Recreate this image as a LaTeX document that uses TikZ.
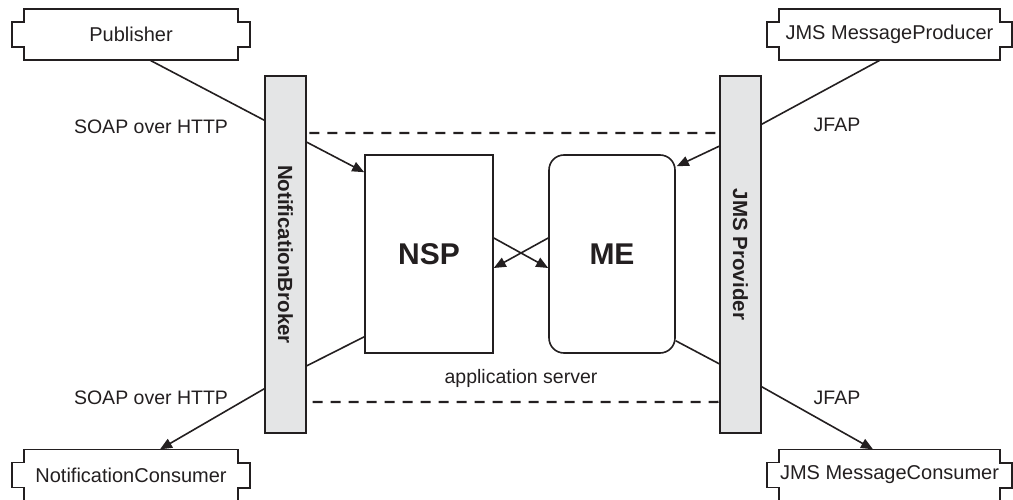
\documentclass[tikz,border=0pt]{standalone}
\usepackage{fontspec}
\setmainfont{Liberation Sans}
\usetikzlibrary{arrows.meta, calc}
\definecolor{inkDark}{HTML}{231F20}
\definecolor{barGray}{HTML}{E4E5E6}

\begin{document}
\begin{tikzpicture}[x=1pt, y=-1pt,
    endpoint/.style={rectangle, minimum width=#1, minimum height=51,
                     inner sep=0pt, font=\fontsize{20}{24}\selectfont\color{inkDark}},
    endpoint/.default=214,
    bar/.style={rectangle, draw=inkDark, line width=1.6pt, fill=barGray,
                minimum width=41, minimum height=357, inner sep=0pt,
                font=\fontsize{20.5}{24}\selectfont\bfseries\color{inkDark}},
    comp/.style={rectangle, draw=inkDark, line width=1.6pt, fill=white,
                 minimum height=198, inner sep=0pt,
                 font=\fontsize{30}{36}\selectfont\bfseries\color{inkDark}},
    lbl/.style={font=\fontsize{19.5}{24}\selectfont\color{inkDark}},
    link/.style={draw=inkDark, line width=1.6pt},
    flow/.style={link, -{Triangle[length=12pt, width=10pt]}},
  ]
    \useasboundingbox (0,0) rectangle (1013,500);

    % application server (behind the bars)
    \draw[inkDark, line width=2.2pt, dash pattern=on 10pt off 8pt, rounded corners=8pt]
      (300,133) rectangle (725,402);

    % end points
    \node[endpoint] (pub) at (131,34.5) {Publisher};
    \node[endpoint] (ncon) at (131,475) {NotificationConsumer};
    \node[endpoint=221] (prod) at (889.5,34.5) {JMS MessageProducer};
    \node[endpoint=221] (mcon) at (889.5,475) {JMS MessageConsumer};
    \foreach \n in {pub,ncon,prod,mcon}
      \draw[inkDark, line width=1.6pt]
        (\n.north west) -- ++(0,13) -- ++(-12,0) -- ++(0,25) -- ++(12,0)
        -- (\n.south west) -- (\n.south east) -- ++(0,-13) -- ++(12,0)
        -- ++(0,-25) -- ++(-12,0) -- (\n.north east) -- cycle;

    % brokers
    \node[bar] (broker) at (285.5,254.5) {\rotatebox{-90}{NotificationBroker}};
    \node[bar] (prov) at (740.5,254.5) {\rotatebox{-90}{JMS Provider}};

    % server components
    \node[comp, minimum width=128] (nsp) at (429,254) {NSP};
    \node[comp, minimum width=126, rounded corners=15pt] (me) at (612,254) {ME};

    % labels
    \node[lbl] (soapin) at (151,127) {SOAP over HTTP};
    \node[lbl] (soapout) at (151,398) {SOAP over HTTP};
    \node[lbl] (jfapin) at (837,125) {JFAP};
    \node[lbl] (jfapout) at (837,398) {JFAP};
    \node[lbl] (appsrv) at (521,378) {application server};

    % connections
    \draw[link] ($(pub.south)+(19,0)$) -- ($(broker.north west)+(0,45)$);
    \draw[flow] ($(broker.north east)+(0,67)$) -- ($(nsp.north west)+(0,18)$);
    \draw[link] ($(nsp.south west)+(0,-17)$) -- ($(broker.south east)+(0,-68)$);
    \draw[flow] ($(broker.south west)+(0,-45)$) -- ($(ncon.north)+(29,0)$);
    \draw[link] ($(prod.south)+(-9.5,0)$) -- ($(prov.north east)+(0,49)$);
    \draw[flow] ($(prov.north west)+(0,71)$) -- ($(me.north east)+(1,12)$);
    \draw[link] ($(me.south east)+(0,-13)$) -- ($(prov.south west)+(0,-70)$);
    \draw[flow] ($(prov.south east)+(0,-47)$) -- ($(mcon.north)+(-16.5,0)$);
    \draw[flow] ($(nsp.east)+(0,-16)$) -- ($(me.west)+(0,14)$);
    \draw[flow] ($(me.west)+(0,-16)$) -- ($(nsp.east)+(0,14)$);
  \end{tikzpicture}
\end{document}
